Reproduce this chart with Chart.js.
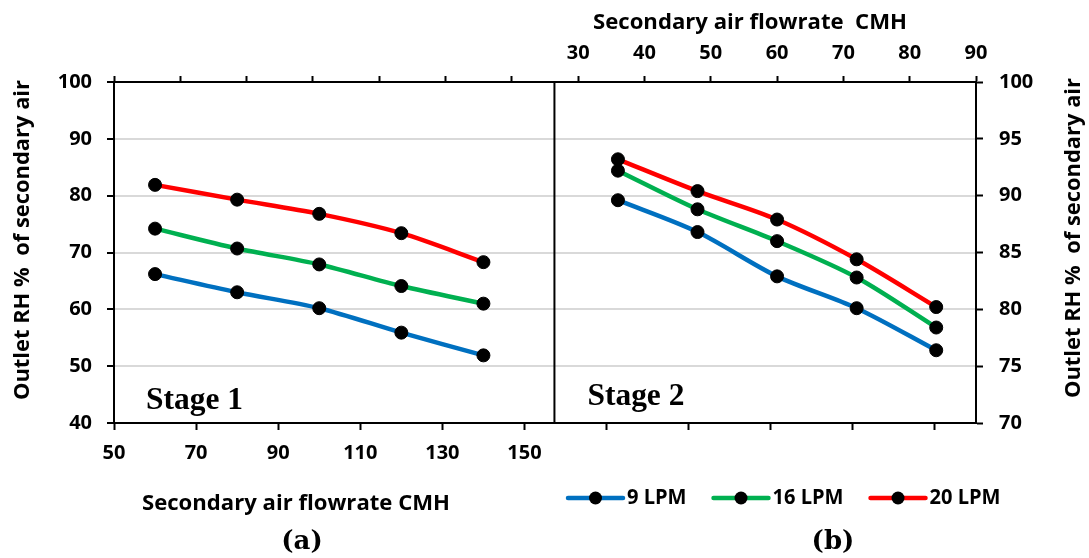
<!DOCTYPE html>
<html>
<head>
<meta charset="utf-8">
<script src="https://cdn.jsdelivr.net/npm/chart.js@4/dist/chart.umd.min.js"></script>
<style>
  html, body { margin: 0; padding: 0; background: #fff; }
  #wrap { width: 1089px; height: 558px; }
</style>
</head>
<body>
<div id="wrap"><canvas id="c" width="1089" height="558"></canvas></div>
<script>
// ---------- data ----------
const seriesNames = ['9 LPM', '16 LPM', '20 LPM'];
const seriesColors = ['#0070C0', '#00B050', '#FF0000'];

// Stage 1 (panel a) - bottom axis
const stage1Flow = [60, 80, 100, 120, 140];
const stage1RH9  = [66.2, 63.0, 60.2, 55.9, 51.9];
const stage1RH16 = [74.2, 70.7, 67.9, 64.1, 61.0];
const stage1RH20 = [81.9, 79.3, 76.8, 73.4, 68.3];

// Stage 2 (panel b) - top axis
const stage2Flow = [36, 48, 60, 72, 84];
const stage2RH9  = [89.6, 86.8, 82.9, 80.1, 76.4];
const stage2RH16 = [92.2, 88.8, 86.0, 82.8, 78.4];
const stage2RH20 = [93.2, 90.4, 87.9, 84.4, 80.2];

// tick values / labels
const bottomTicks  = [50, 70, 90, 110, 130, 150, 170, 190, 210, 230, 250];
const bottomLabels = ['50', '70', '90', '110', '130', '150'];
const topTicks     = [-40, -30, -20, -10, 0, 10, 20, 30, 40, 50, 60, 70, 80, 90];
const topLabels    = ['30', '40', '50', '60', '70', '80', '90'];
const leftTicks    = [40, 50, 60, 70, 80, 90, 100];
const rightTicks   = [70, 75, 80, 85, 90, 95, 100];

const bottomTitle = 'Secondary air flowrate CMH';
const topTitle    = 'Secondary air flowrate  CMH';
const yTitle      = 'Outlet RH %  of secondary air';
const stageLabels = ['Stage 1', 'Stage 2'];
const panelLabels = ['(a)', '(b)'];
const panelDivider = 157.3; // boundary between the panels, in bottom-axis units

// ---------- helpers ----------
const SANS = "'Open Sans', 'Noto Sans', sans-serif";
const SERIF = "'Liberation Serif', 'DejaVu Serif', serif";
const mctx = document.createElement('canvas').getContext('2d');
function fitSize(text, weight, family, targetW) {
  mctx.font = weight + ' 100px ' + family;
  return 100 * targetW / mctx.measureText(text).width;
}
const tickFont = { family: SANS, weight: 'bold', size: 20 };

// draw text at given font size, squeezed horizontally to a target width
function drawSqueezed(ctx, text, x, y, size, targetW, align) {
  ctx.font = 'bold ' + size + 'px ' + SANS;
  const w = ctx.measureText(text).width;
  const f = targetW / w;
  ctx.save();
  ctx.translate(x, y);
  ctx.scale(f, 1);
  ctx.textAlign = align;
  ctx.fillText(text, 0, 0);
  ctx.restore();
}

function pts(xs, ys) { return xs.map((x, i) => ({ x: x, y: ys[i] })); }
function ds(label, color, data, xAxis, yAxis) {
  return {
    label: label, data: data, xAxisID: xAxis, yAxisID: yAxis,
    borderColor: color, backgroundColor: color, borderWidth: 4.5,
    tension: 0.3, pointRadius: 6.5, pointBackgroundColor: '#000',
    pointBorderColor: '#000', pointBorderWidth: 1, pointHoverRadius: 6.5,
    fill: false
  };
}

const datasets = [
  ds(seriesNames[0], seriesColors[0], pts(stage1Flow, stage1RH9),  'xB', 'yL'),
  ds(seriesNames[1], seriesColors[1], pts(stage1Flow, stage1RH16), 'xB', 'yL'),
  ds(seriesNames[2], seriesColors[2], pts(stage1Flow, stage1RH20), 'xB', 'yL'),
  ds(seriesNames[0], seriesColors[0], pts(stage2Flow, stage2RH9),  'xT', 'yR'),
  ds(seriesNames[1], seriesColors[1], pts(stage2Flow, stage2RH16), 'xT', 'yR'),
  ds(seriesNames[2], seriesColors[2], pts(stage2Flow, stage2RH20), 'xT', 'yR')
];

const decor = {
  id: 'decor',
  beforeDatasetsDraw(chart) {
    const ctx = chart.ctx, a = chart.chartArea;
    const xd = chart.scales.xB.getPixelForValue(panelDivider);
    ctx.save();
    ctx.strokeStyle = '#000'; ctx.lineWidth = 2;
    ctx.beginPath(); ctx.moveTo(xd, a.top); ctx.lineTo(xd, a.bottom); ctx.stroke();
    ctx.restore();
  },
  afterDraw(chart) {
    const ctx = chart.ctx, a = chart.chartArea;
    const xd = chart.scales.xB.getPixelForValue(panelDivider);
    ctx.save();
    ctx.fillStyle = '#000';
    // stage labels
    const sSize = fitSize(stageLabels[0], 'bold', SERIF, 97);
    ctx.font = 'bold ' + sSize + 'px ' + SERIF;
    ctx.textAlign = 'left'; ctx.textBaseline = 'alphabetic';
    ctx.fillText(stageLabels[0], a.left + 32, a.bottom - 14);
    ctx.fillText(stageLabels[1], xd + 33, a.bottom - 18);

    // axis titles
    drawSqueezed(ctx, bottomTitle, 296, 510, 22, 308, 'center');
    drawSqueezed(ctx, topTitle, 593, 29, 21.5, 314, 'left');
    [[29, 240], [1080, 238]].forEach(p => {
      ctx.save(); ctx.translate(p[0], p[1]); ctx.rotate(-Math.PI / 2);
      drawSqueezed(ctx, yTitle, 0, 0, 21.5, 320, 'center');
      ctx.restore();
    });

    // panel labels
    ctx.font = 'bold 26px ' + "'DejaVu Serif', serif";
    ctx.textAlign = 'center'; ctx.textBaseline = 'middle';
    ctx.fillText(panelLabels[0], 302, 542);
    ctx.fillText(panelLabels[1], 833, 542);

    // legend
    const lFont = 21.5;
    ctx.font = 'bold ' + lFont + 'px ' + SANS;
    const squeeze = 71 / ctx.measureText(seriesNames[2]).width;
    ctx.textBaseline = 'middle';
    let x = 568; const y = 498;
    for (let i = 0; i < 3; i++) {
      const d = chart.data.datasets[i];
      ctx.strokeStyle = d.borderColor; ctx.lineWidth = 4.5; ctx.lineCap = 'round';
      ctx.beginPath(); ctx.moveTo(x, y); ctx.lineTo(x + 55, y); ctx.stroke();
      ctx.fillStyle = '#000';
      ctx.beginPath(); ctx.arc(x + 27.5, y, 6.5, 0, Math.PI * 2); ctx.fill();
      ctx.font = 'bold ' + lFont + 'px ' + SANS;
      const tw = ctx.measureText(d.label).width * squeeze;
      drawSqueezed(ctx, d.label, x + 59, y, lFont, tw, 'left');
      x += 59 + tw + 27;
    }
    ctx.restore();
  }
};

function axisBase() {
  return {
    type: 'linear',
    border: { display: true, color: '#000', width: 2 },
    ticks: { color: '#000', font: tickFont, maxRotation: 0, minRotation: 0, autoSkip: false },
  };
}

const cfg = {
  type: 'line',
  data: { datasets: datasets },
  options: {
    responsive: false, animation: false, devicePixelRatio: 1,
    layout: { padding: 0 },
    plugins: { legend: { display: false }, tooltip: { enabled: false } },
    scales: {
      xB: Object.assign(axisBase(), {
        position: 'bottom', min: 50, max: 260,
        afterBuildTicks: s => { s.ticks = bottomTicks.map(v => ({ value: v })); },
        ticks: Object.assign(axisBase().ticks, { padding: 11,
          callback: v => bottomLabels.includes(String(v)) ? String(v) : '' }),
        grid: { drawOnChartArea: false, drawTicks: true, tickLength: 7, tickColor: '#000', tickWidth: 2 },
        afterFit: s => { s.height = 135; }
      }),
      xT: Object.assign(axisBase(), {
        position: 'top', min: -40, max: 90,
        afterBuildTicks: s => { s.ticks = topTicks.map(v => ({ value: v })); },
        ticks: Object.assign(axisBase().ticks, { padding: 11,
          callback: v => topLabels.includes(String(v)) ? String(v) : '' }),
        grid: { drawOnChartArea: false, drawTicks: true, tickLength: 6, tickColor: '#000', tickWidth: 2 },
        afterFit: s => { s.height = 82; }
      }),
      yL: Object.assign(axisBase(), {
        position: 'left', min: 40, max: 100,
        afterBuildTicks: s => { s.ticks = leftTicks.map(v => ({ value: v })); },
        ticks: Object.assign(axisBase().ticks, { padding: 15 }),
        grid: { drawOnChartArea: true, color: '#d9d9d9', lineWidth: 2, tickLength: 7, tickColor: '#000', tickWidth: 2 },
        afterFit: s => { s.width = 114; }
      }),
      yR: Object.assign(axisBase(), {
        position: 'right', min: 70, max: 100,
        afterBuildTicks: s => { s.ticks = rightTicks.map(v => ({ value: v })); },
        ticks: Object.assign(axisBase().ticks, { padding: 16 }),
        grid: { drawOnChartArea: false, tickLength: 7, tickColor: '#000', tickWidth: 2 },
        afterFit: s => { s.width = 113; }
      })
    }
  },
  plugins: [decor]
};

new Chart(document.getElementById('c'), cfg);
</script>
</body>
</html>
